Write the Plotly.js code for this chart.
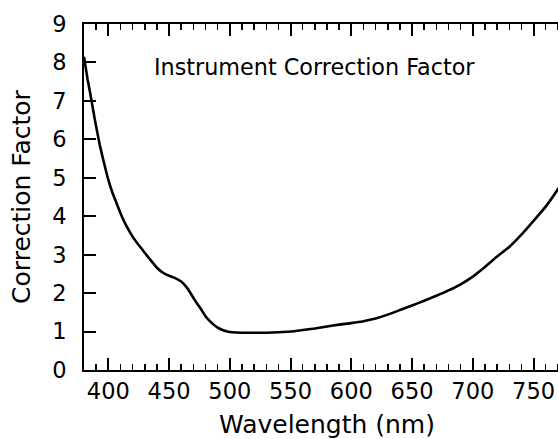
<!DOCTYPE html>
<html>
<head>
<meta charset="utf-8">
<script src="https://cdn.plot.ly/plotly-3.0.1.min.js"></script>
<style>
  html, body { margin: 0; padding: 0; background: white; overflow: hidden; width: 558px; height: 439px; }
</style>
</head>
<body>
<div id="chart"></div>
<script>
// correction factor
const wavelength = [380, 381, 383, 385, 387, 389, 391, 393, 396, 400, 403, 406, 410, 415, 420, 425, 430, 435, 440, 445,
  450, 455, 460, 465, 470, 473, 476, 480, 483, 486, 490, 494, 498, 502, 510, 520, 530, 540, 550, 560,
  570, 580, 590, 600, 610, 620, 630, 640, 650, 660, 670, 680, 690, 700, 710, 720, 730, 740, 750, 760,
  770, 780]
const correction = [8.15, 7.95, 7.55, 7.22, 6.86, 6.5, 6.17, 5.85, 5.45, 4.95, 4.65, 4.4, 4.08, 3.74, 3.47, 3.25, 3.05, 2.85, 2.66, 2.53,
  2.45, 2.39, 2.3, 2.13, 1.88, 1.73, 1.6, 1.4, 1.29, 1.2, 1.1, 1.04, 1.0, 0.98, 0.97, 0.97, 0.97, 0.98, 1.0, 1.04,
  1.08, 1.13, 1.18, 1.22, 1.27, 1.34, 1.44, 1.56, 1.68, 1.8, 1.93, 2.07, 2.23, 2.43, 2.68, 2.95, 3.2, 3.52, 3.88, 4.25,
  4.7, 5.2]

const xTicks = [400, 450, 500, 550, 600, 650, 700, 750]
const yTicks = [0, 1, 2, 3, 4, 5, 6, 7, 8, 9]

const font = 'DejaVu Sans, Arial, sans-serif'

const data = [{
  x: wavelength,
  y: correction,
  type: 'scatter',
  mode: 'lines',
  line: { color: 'black', width: 2.6, shape: 'spline', smoothing: 0.4 },
  hoverinfo: 'skip',
}]

const layout = {
  width: 572,
  height: 439,
  margin: { l: 84, r: 2, t: 24, b: 69 },
  paper_bgcolor: 'white',
  plot_bgcolor: 'white',
  showlegend: false,
  font: { family: font, color: 'black' },
  xaxis: {
    range: [380, 780],
    tickmode: 'array',
    tickvals: xTicks,
    ticks: 'inside',
    ticklen: 12,
    tickwidth: 2,
    tickcolor: 'black',
    minor: { dtick: 10, tick0: 380, ticks: 'inside', ticklen: 6, tickwidth: 1.5, tickcolor: 'black' },
    showline: true,
    linecolor: 'black',
    linewidth: 2,
    mirror: 'ticks',
    showgrid: false,
    zeroline: false,
    tickfont: { size: 22.5, family: font },
    ticklabelstandoff: 0,
    title: { text: 'Wavelength (nm)', font: { size: 25, family: font }, standoff: 12 },
  },
  yaxis: {
    range: [0, 9],
    tickmode: 'array',
    tickvals: yTicks,
    ticks: 'inside',
    ticklen: 12,
    tickwidth: 2,
    tickcolor: 'black',
    showline: true,
    linecolor: 'black',
    linewidth: 2,
    mirror: 'ticks',
    showgrid: false,
    zeroline: false,
    tickfont: { size: 22.5, family: font },
    ticklabelstandoff: 11,
    title: { text: 'Correction Factor', font: { size: 25, family: font }, standoff: 14 },
  },
  annotations: [{
    text: 'Instrument Correction Factor',
    xref: 'paper',
    yref: 'paper',
    x: 0.475,
    y: 0.875,
    xanchor: 'center',
    yanchor: 'middle',
    showarrow: false,
    font: { size: 22.3, family: font, color: 'black' },
  }],
}

Plotly.newPlot('chart', data, layout, { displayModeBar: false, staticPlot: true })
</script>
</body>
</html>
